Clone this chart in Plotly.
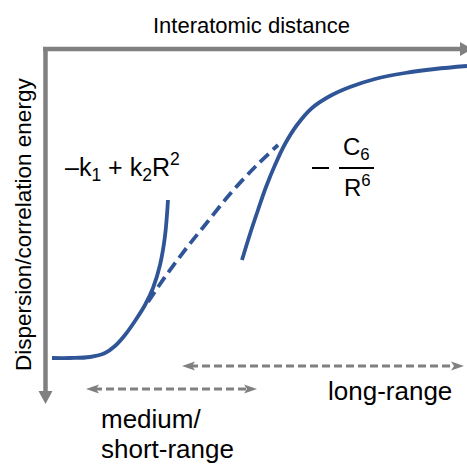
import plotly.graph_objects as go

# ---- data (schematic curves, in plot units: x = distance, y = energy, y axis pointing down) ----
short_x = [52, 70, 90, 105, 115, 125, 135, 145, 153, 160, 165, 168]
short_y = [358, 358, 357, 353, 346, 335, 321, 305, 288, 265, 236, 200]

mid_x = [148, 165, 185, 205, 230, 255, 278]
mid_y = [302, 277, 250, 225, 194, 167, 145]

long_x = [242, 250, 258, 266, 275, 285, 297, 312, 330, 350, 375, 405, 435, 467]
long_y = [260, 234, 210, 187, 165, 144, 125, 108, 96, 87, 79, 73, 69, 66]

x_title = "Interatomic distance"
y_title = "Dispersion/correlation energy"
short_formula = "–k<sub>1</sub> + k<sub>2</sub>R<sup>2</sup>"
long_num = "C<sub>6</sub>"
long_den = "R<sup>6</sup>"
range_labels = ["long-range", "medium/", "short-range"]

BLUE = "#2F5597"
GRAY = "#808080"
FONT = "Arial, Liberation Sans, sans-serif"

fig = go.Figure()
fig.add_trace(go.Scatter(x=short_x, y=short_y, mode="lines", line=dict(color=BLUE, width=3.8, shape="spline"), hoverinfo="skip"))
fig.add_trace(go.Scatter(x=mid_x, y=mid_y, mode="lines", line=dict(color=BLUE, width=3.8, shape="spline", dash="12px,6px"), hoverinfo="skip"))
fig.add_trace(go.Scatter(x=long_x, y=long_y, mode="lines", line=dict(color=BLUE, width=3.8, shape="spline"), hoverinfo="skip"))

shapes = []
# axes
shapes.append(dict(type="line", x0=43, y0=49, x1=462, y1=49, line=dict(color=GRAY, width=4.5)))
shapes.append(dict(type="line", x0=45.5, y0=47, x1=45.5, y1=393, line=dict(color=GRAY, width=4.5)))
shapes.append(dict(type="path", path="M 460 42 L 460 56 L 472 49 Z", fillcolor=GRAY, line=dict(width=0)))
shapes.append(dict(type="path", path="M 38.5 391 L 52.5 391 L 45.5 404 Z", fillcolor=GRAY, line=dict(width=0)))
# range arrows
for (xa, xb, yy) in [(184, 462, 366), (88, 255, 389)]:
    shapes.append(dict(type="line", x0=xa + 6, y0=yy, x1=xb - 6, y1=yy, line=dict(color=GRAY, width=3, dash="8px,4px")))
    shapes.append(dict(type="path", path=f"M {xa+11} {yy-4.5} L {xa-2} {yy} L {xa+11} {yy+4.5} L {xa+8} {yy} Z", fillcolor=GRAY, line=dict(width=0)))
    shapes.append(dict(type="path", path=f"M {xb-11} {yy-4.5} L {xb+2} {yy} L {xb-11} {yy+4.5} L {xb-8} {yy} Z", fillcolor=GRAY, line=dict(width=0)))
# fraction bar and minus sign
shapes.append(dict(type="line", x0=339, y0=168, x1=374, y1=168, line=dict(color="black", width=2)))
shapes.append(dict(type="line", x0=312, y0=168, x1=329, y1=168, line=dict(color="black", width=2)))

ann = []
def txt(t, x, y, size, xanchor="center", angle=0):
    ann.append(dict(text=t, x=x, y=y, xref="x", yref="y", showarrow=False, xanchor=xanchor, yanchor="middle",
                    textangle=angle, font=dict(family=FONT, size=size, color="black")))

txt(x_title, 251, 25, 22)
txt(y_title, 23, 225, 22.5, angle=-90)
txt(short_formula, 63, 167, 25, xanchor="left")
txt(long_num, 356, 148, 24)
txt(long_den, 357, 186, 24)
txt(range_labels[0], 390, 391, 26)
txt(range_labels[1], 99, 419, 26, xanchor="left")
txt(range_labels[2], 99, 449, 26, xanchor="left")

fig.update_layout(
    width=467, height=464, margin=dict(l=0, r=0, t=0, b=0),
    paper_bgcolor="white", plot_bgcolor="white", showlegend=False,
    xaxis=dict(range=[0, 467], visible=False, fixedrange=True),
    yaxis=dict(range=[464, 0], visible=False, fixedrange=True),
    shapes=shapes, annotations=ann,
)
fig.write_html("out.html")
